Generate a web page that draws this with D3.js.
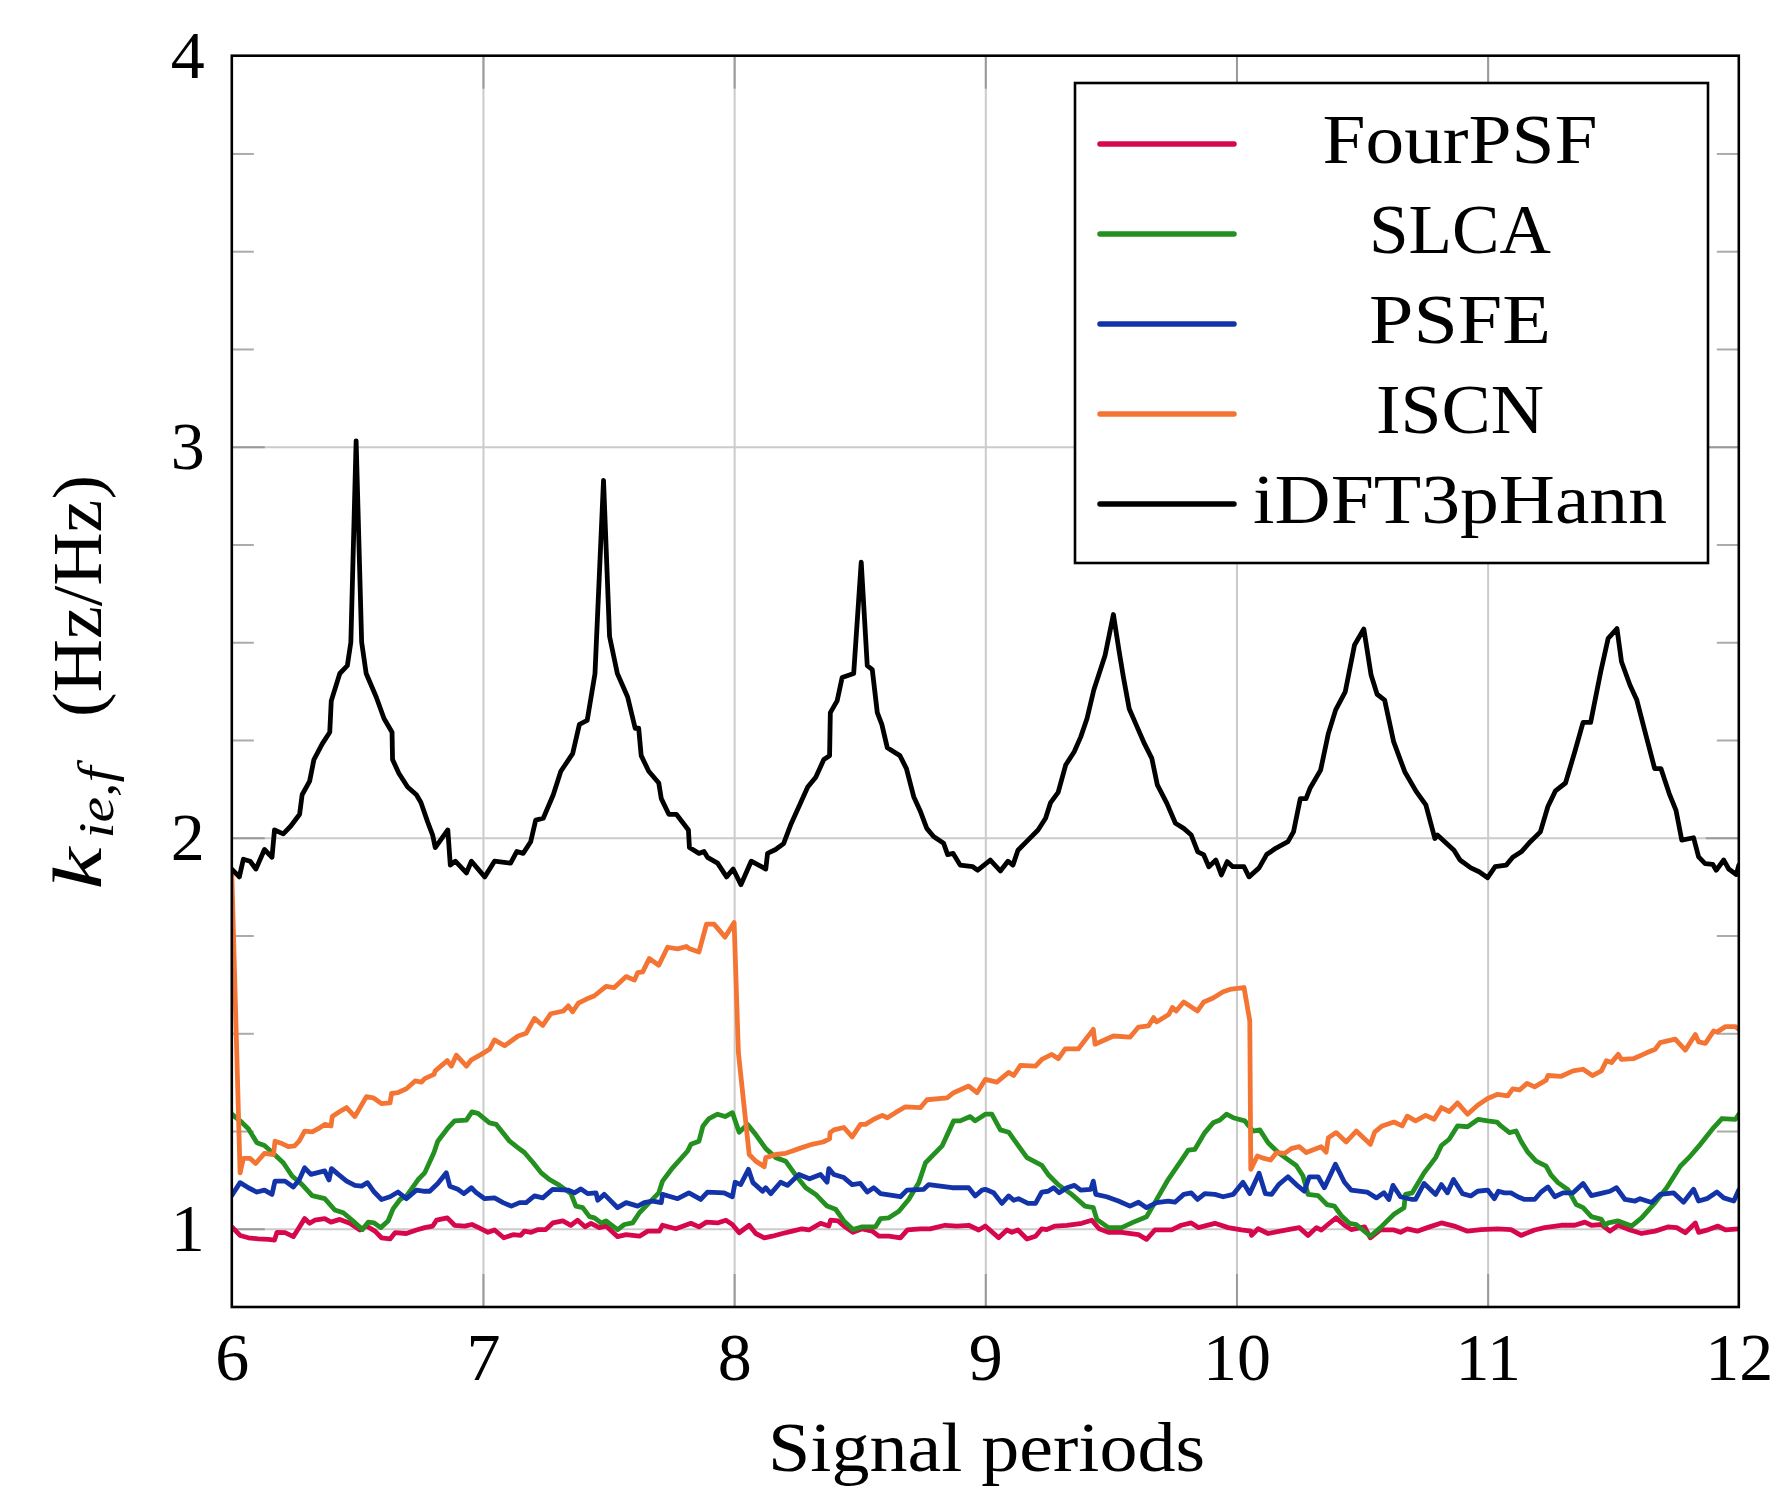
<!DOCTYPE html>
<html><head><meta charset="utf-8">
<script src="https://cdn.jsdelivr.net/npm/d3@7"></script>
<style>
body{margin:0;background:#fff}
svg{display:block}
text{font-family:"Liberation Serif","Times New Roman",serif;fill:#000}
</style>
</head><body>
<svg id="chart" width="1782" height="1488"></svg>
<script>
// ---------- data ----------
const xTickValues = [6, 7, 8, 9, 10, 11, 12];
const yTickValues = [1, 2, 3, 4];
const yMinorTicks = [1.25, 1.5, 1.75, 2.25, 2.5, 2.75, 3.25, 3.5, 3.75];
const seriesNames = ["FourPSF", "SLCA", "PSFE", "ISCN", "iDFT3pHann"];
const seriesColors = ["#d6074c", "#23901f", "#1334a8", "#f47533", "#000000"];
const xLabel = "Signal periods";

const fourPSF = [[6.0,1.005],[6.033,0.983],[6.066,0.977],[6.106,0.974],[6.146,0.973],[6.17,0.971],[6.18,0.991],[6.212,0.99],[6.245,0.98],[6.265,1.0],[6.29,1.026],[6.31,1.014],[6.33,1.022],[6.37,1.026],[6.395,1.017],[6.43,1.024],[6.47,1.014],[6.51,0.997],[6.536,1.007],[6.57,0.994],[6.596,0.977],[6.63,0.974],[6.65,0.99],[6.695,0.988],[6.735,0.997],[6.768,1.003],[6.8,1.007],[6.815,1.022],[6.858,1.028],[6.887,1.009],[6.927,1.007],[6.956,1.011],[6.983,1.003],[7.02,0.991],[7.046,0.997],[7.083,0.977],[7.12,0.985],[7.15,0.983],[7.165,0.994],[7.192,0.991],[7.22,0.998],[7.25,0.998],[7.278,1.015],[7.318,1.02],[7.35,1.009],[7.377,1.022],[7.406,1.005],[7.43,1.014],[7.463,1.003],[7.49,1.007],[7.536,0.98],[7.57,0.985],[7.623,0.981],[7.656,0.994],[7.702,0.994],[7.715,1.009],[7.768,1.0],[7.828,1.014],[7.86,1.005],[7.89,1.017],[7.934,1.015],[7.967,1.022],[7.993,1.011],[8.02,0.99],[8.06,1.009],[8.086,0.988],[8.12,0.977],[8.152,0.981],[8.192,0.988],[8.232,0.994],[8.27,1.0],[8.298,0.997],[8.344,1.014],[8.377,1.007],[8.384,1.022],[8.414,1.02],[8.437,1.007],[8.473,0.991],[8.51,1.0],[8.55,0.994],[8.576,0.981],[8.616,0.981],[8.662,0.977],[8.69,0.997],[8.742,1.0],[8.78,1.0],[8.84,1.009],[8.887,1.007],[8.934,1.009],[8.974,0.997],[9.0,1.007],[9.053,0.977],[9.086,0.997],[9.106,0.991],[9.13,0.997],[9.166,0.974],[9.2,0.981],[9.225,1.0],[9.245,0.998],[9.278,1.007],[9.325,1.009],[9.384,1.014],[9.424,1.022],[9.453,1.0],[9.49,0.991],[9.543,0.991],[9.61,0.985],[9.642,0.973],[9.675,0.997],[9.742,0.997],[9.78,1.009],[9.82,1.015],[9.848,1.003],[9.914,1.014],[9.967,1.003],[10.02,0.997],[10.057,0.994],[10.06,0.983],[10.086,1.0],[10.126,0.988],[10.2,0.997],[10.25,1.003],[10.285,0.983],[10.318,1.003],[10.338,0.997],[10.364,1.011],[10.397,1.028],[10.43,1.009],[10.457,0.998],[10.51,1.005],[10.533,0.977],[10.573,0.997],[10.627,0.997],[10.653,0.991],[10.68,1.0],[10.72,0.994],[10.76,1.003],[10.816,1.015],[10.867,1.007],[10.92,0.994],[10.973,0.998],[11.04,1.0],[11.093,0.998],[11.133,0.983],[11.187,0.997],[11.227,1.003],[11.293,1.009],[11.347,1.009],[11.387,1.017],[11.413,1.009],[11.453,1.011],[11.487,0.994],[11.52,1.009],[11.567,0.997],[11.613,0.988],[11.667,0.994],[11.72,1.005],[11.753,1.003],[11.787,0.99],[11.827,1.015],[11.84,0.991],[11.88,0.998],[11.917,1.007],[11.947,0.997],[12.0,1.0]];

const slca = [[6.0,1.293],[6.033,1.276],[6.066,1.256],[6.1,1.22],[6.13,1.213],[6.17,1.19],[6.205,1.169],[6.24,1.135],[6.28,1.113],[6.32,1.085],[6.37,1.077],[6.41,1.048],[6.444,1.041],[6.483,1.02],[6.52,0.998],[6.543,1.017],[6.567,1.015],[6.593,1.003],[6.622,1.02],[6.642,1.051],[6.67,1.075],[6.696,1.084],[6.742,1.126],[6.768,1.143],[6.805,1.195],[6.82,1.224],[6.858,1.256],[6.887,1.276],[6.934,1.278],[6.956,1.299],[6.98,1.295],[7.026,1.271],[7.053,1.267],[7.106,1.224],[7.14,1.207],[7.165,1.195],[7.2,1.169],[7.232,1.143],[7.265,1.126],[7.305,1.111],[7.35,1.09],[7.37,1.058],[7.397,1.054],[7.424,1.031],[7.444,1.028],[7.47,1.015],[7.49,1.02],[7.536,0.998],[7.563,1.011],[7.596,1.015],[7.623,1.041],[7.662,1.067],[7.7,1.092],[7.715,1.122],[7.755,1.156],[7.815,1.199],[7.828,1.216],[7.86,1.224],[7.876,1.263],[7.9,1.282],[7.934,1.293],[7.964,1.287],[7.993,1.297],[8.02,1.247],[8.053,1.267],[8.086,1.241],[8.126,1.205],[8.166,1.182],[8.205,1.173],[8.245,1.137],[8.285,1.105],[8.325,1.088],[8.37,1.058],[8.404,1.05],[8.437,1.02],[8.473,0.998],[8.51,1.005],[8.563,1.005],[8.583,1.026],[8.616,1.028],[8.656,1.045],[8.695,1.075],[8.735,1.118],[8.762,1.169],[8.828,1.212],[8.874,1.276],[8.9,1.276],[8.94,1.287],[8.96,1.276],[9.0,1.293],[9.026,1.293],[9.06,1.253],[9.093,1.247],[9.132,1.212],[9.166,1.182],[9.225,1.162],[9.25,1.139],[9.29,1.113],[9.344,1.088],[9.397,1.058],[9.43,1.054],[9.444,1.024],[9.49,1.003],[9.543,1.003],[9.59,1.017],[9.642,1.031],[9.675,1.067],[9.728,1.126],[9.788,1.182],[9.808,1.201],[9.834,1.203],[9.874,1.246],[9.907,1.271],[9.934,1.278],[9.96,1.293],[9.987,1.284],[10.033,1.276],[10.066,1.25],[10.093,1.253],[10.126,1.22],[10.166,1.195],[10.205,1.177],[10.238,1.162],[10.265,1.135],[10.285,1.088],[10.325,1.085],[10.36,1.062],[10.39,1.058],[10.417,1.034],[10.45,1.014],[10.477,1.011],[10.533,0.981],[10.573,1.003],[10.627,1.037],[10.667,1.054],[10.673,1.088],[10.7,1.092],[10.747,1.143],[10.793,1.182],[10.816,1.213],[10.847,1.229],[10.88,1.263],[10.92,1.261],[10.963,1.28],[11.0,1.276],[11.037,1.273],[11.053,1.263],[11.087,1.246],[11.113,1.25],[11.133,1.224],[11.16,1.196],[11.193,1.173],[11.233,1.16],[11.253,1.137],[11.28,1.118],[11.32,1.1],[11.353,1.062],[11.38,1.054],[11.413,1.031],[11.453,1.024],[11.467,1.009],[11.48,1.015],[11.52,1.02],[11.573,1.007],[11.613,1.028],[11.667,1.067],[11.713,1.105],[11.767,1.16],[11.807,1.186],[11.847,1.216],[11.9,1.259],[11.933,1.282],[11.987,1.28],[12.0,1.293]];

const psfe = [[6.0,1.085],[6.033,1.118],[6.066,1.105],[6.1,1.094],[6.13,1.099],[6.16,1.088],[6.172,1.122],[6.212,1.122],[6.245,1.107],[6.268,1.125],[6.29,1.156],[6.315,1.139],[6.338,1.143],[6.37,1.148],[6.387,1.125],[6.397,1.154],[6.424,1.139],[6.457,1.122],[6.49,1.111],[6.517,1.109],[6.54,1.118],[6.567,1.094],[6.596,1.075],[6.63,1.082],[6.662,1.094],[6.695,1.077],[6.735,1.099],[6.768,1.096],[6.788,1.096],[6.82,1.116],[6.854,1.143],[6.868,1.109],[6.9,1.101],[6.924,1.09],[6.954,1.105],[6.974,1.092],[7.007,1.077],[7.046,1.079],[7.08,1.067],[7.113,1.058],[7.146,1.067],[7.172,1.067],[7.205,1.084],[7.238,1.079],[7.278,1.101],[7.338,1.099],[7.364,1.092],[7.39,1.102],[7.417,1.09],[7.45,1.092],[7.457,1.073],[7.483,1.088],[7.497,1.079],[7.536,1.054],[7.57,1.067],[7.616,1.058],[7.642,1.067],[7.675,1.071],[7.71,1.067],[7.715,1.088],[7.748,1.082],[7.775,1.077],[7.82,1.092],[7.867,1.075],[7.894,1.094],[7.96,1.092],[7.993,1.082],[8.004,1.119],[8.026,1.113],[8.057,1.152],[8.075,1.118],[8.113,1.096],[8.126,1.105],[8.146,1.09],[8.185,1.119],[8.212,1.111],[8.258,1.139],[8.3,1.128],[8.344,1.139],[8.37,1.119],[8.377,1.154],[8.397,1.139],[8.437,1.131],[8.47,1.113],[8.503,1.116],[8.53,1.094],[8.556,1.105],[8.583,1.09],[8.642,1.084],[8.662,1.082],[8.688,1.099],[8.755,1.101],[8.775,1.113],[8.868,1.105],[8.934,1.105],[8.96,1.084],[8.987,1.099],[9.0,1.101],[9.033,1.092],[9.066,1.065],[9.093,1.084],[9.113,1.073],[9.132,1.077],[9.17,1.065],[9.2,1.065],[9.225,1.094],[9.25,1.096],[9.272,1.105],[9.294,1.092],[9.325,1.105],[9.355,1.111],[9.38,1.099],[9.42,1.101],[9.43,1.122],[9.44,1.088],[9.483,1.082],[9.53,1.071],[9.576,1.058],[9.61,1.068],[9.642,1.054],[9.682,1.067],[9.728,1.071],[9.755,1.068],[9.79,1.088],[9.82,1.092],[9.845,1.075],[9.874,1.09],[9.914,1.088],[9.947,1.082],[9.987,1.088],[10.026,1.119],[10.053,1.09],[10.09,1.142],[10.115,1.09],[10.14,1.088],[10.168,1.113],[10.205,1.133],[10.238,1.113],[10.27,1.096],[10.29,1.133],[10.325,1.133],[10.35,1.105],[10.394,1.165],[10.43,1.119],[10.457,1.099],[10.52,1.094],[10.557,1.079],[10.587,1.092],[10.607,1.075],[10.623,1.111],[10.653,1.082],[10.7,1.075],[10.713,1.075],[10.747,1.116],[10.793,1.088],[10.816,1.113],[10.84,1.092],[10.864,1.126],[10.9,1.09],[10.933,1.084],[10.96,1.096],[11.0,1.099],[11.027,1.077],[11.043,1.096],[11.067,1.092],[11.093,1.092],[11.12,1.082],[11.147,1.075],[11.187,1.075],[11.213,1.094],[11.24,1.107],[11.267,1.082],[11.3,1.092],[11.34,1.092],[11.38,1.116],[11.413,1.085],[11.46,1.092],[11.487,1.096],[11.513,1.105],[11.547,1.075],[11.587,1.071],[11.607,1.077],[11.653,1.067],[11.687,1.088],[11.74,1.092],[11.78,1.068],[11.82,1.101],[11.84,1.071],[11.873,1.077],[11.913,1.094],[11.94,1.079],[11.98,1.071],[12.0,1.099]];

const iscn = [[6.0,1.907],[6.033,1.143],[6.046,1.18],[6.073,1.18],[6.095,1.167],[6.13,1.193],[6.166,1.19],[6.172,1.224],[6.2,1.218],[6.225,1.21],[6.25,1.212],[6.268,1.224],[6.29,1.25],[6.32,1.248],[6.344,1.256],[6.37,1.267],[6.395,1.263],[6.4,1.287],[6.43,1.3],[6.457,1.31],[6.49,1.287],[6.536,1.338],[6.563,1.335],[6.596,1.32],[6.63,1.322],[6.636,1.346],[6.66,1.348],[6.695,1.358],[6.73,1.378],[6.755,1.375],[6.768,1.384],[6.805,1.395],[6.81,1.404],[6.858,1.43],[6.874,1.416],[6.894,1.444],[6.934,1.416],[6.954,1.432],[6.993,1.446],[7.026,1.459],[7.046,1.483],[7.086,1.468],[7.14,1.493],[7.172,1.5],[7.205,1.538],[7.238,1.52],[7.27,1.55],[7.32,1.557],[7.34,1.57],[7.357,1.555],[7.38,1.577],[7.41,1.587],[7.444,1.596],[7.49,1.62],[7.523,1.617],[7.57,1.645],[7.603,1.636],[7.616,1.655],[7.636,1.657],[7.662,1.691],[7.7,1.674],[7.735,1.72],[7.775,1.716],[7.81,1.722],[7.82,1.717],[7.86,1.708],[7.89,1.779],[7.92,1.779],[7.964,1.746],[8.0,1.783],[8.017,1.45],[8.06,1.19],[8.086,1.173],[8.12,1.159],[8.126,1.182],[8.166,1.19],[8.205,1.193],[8.232,1.199],[8.258,1.205],[8.31,1.216],[8.354,1.222],[8.38,1.23],[8.382,1.246],[8.397,1.253],[8.437,1.259],[8.47,1.235],[8.503,1.267],[8.523,1.267],[8.556,1.28],[8.59,1.29],[8.61,1.284],[8.642,1.297],[8.682,1.312],[8.742,1.31],[8.768,1.33],[8.848,1.335],[8.874,1.348],[8.934,1.365],[8.967,1.348],[9.0,1.382],[9.046,1.375],[9.093,1.4],[9.113,1.392],[9.14,1.418],[9.2,1.416],[9.225,1.433],[9.265,1.446],[9.291,1.435],[9.318,1.46],[9.37,1.46],[9.43,1.51],[9.437,1.472],[9.51,1.493],[9.576,1.49],[9.61,1.516],[9.65,1.519],[9.67,1.54],[9.682,1.529],[9.73,1.548],[9.745,1.566],[9.76,1.557],[9.79,1.58],[9.845,1.557],[9.87,1.58],[9.907,1.59],[9.947,1.606],[9.98,1.613],[10.03,1.617],[10.053,1.532],[10.057,1.152],[10.083,1.186],[10.11,1.18],[10.136,1.176],[10.16,1.195],[10.192,1.193],[10.218,1.205],[10.25,1.21],[10.278,1.195],[10.337,1.21],[10.357,1.196],[10.366,1.233],[10.397,1.246],[10.437,1.222],[10.477,1.25],[10.533,1.216],[10.55,1.247],[10.58,1.263],[10.627,1.273],[10.66,1.263],[10.68,1.288],[10.713,1.276],[10.753,1.29],[10.787,1.28],[10.816,1.31],[10.847,1.3],[10.88,1.322],[10.92,1.293],[10.96,1.316],[11.0,1.333],[11.04,1.344],[11.08,1.34],[11.1,1.358],[11.127,1.355],[11.157,1.372],[11.187,1.363],[11.233,1.38],[11.24,1.392],[11.293,1.39],[11.34,1.404],[11.38,1.408],[11.417,1.392],[11.453,1.404],[11.473,1.43],[11.493,1.425],[11.52,1.446],[11.533,1.433],[11.58,1.435],[11.633,1.45],[11.667,1.459],[11.687,1.476],[11.747,1.485],[11.787,1.457],[11.827,1.497],[11.84,1.478],[11.867,1.474],[11.9,1.506],[11.913,1.503],[11.947,1.517],[11.987,1.517],[12.0,1.51]];

const idft3pHann = [[6.0,1.92],[6.03,1.9],[6.046,1.945],[6.073,1.94],[6.096,1.92],[6.13,1.97],[6.16,1.95],[6.17,2.02],[6.205,2.01],[6.235,2.03],[6.27,2.06],[6.28,2.11],[6.31,2.145],[6.327,2.2],[6.36,2.24],[6.39,2.27],[6.396,2.35],[6.43,2.42],[6.46,2.44],[6.474,2.5],[6.495,3.015],[6.517,2.5],[6.535,2.42],[6.575,2.36],[6.606,2.305],[6.638,2.27],[6.64,2.2],[6.665,2.165],[6.7,2.13],[6.735,2.11],[6.753,2.09],[6.78,2.04],[6.8,2.006],[6.81,1.975],[6.86,2.02],[6.87,1.93],[6.89,1.94],[6.934,1.91],[6.954,1.94],[7.007,1.9],[7.046,1.94],[7.11,1.935],[7.135,1.965],[7.16,1.96],[7.19,1.99],[7.21,2.045],[7.24,2.05],[7.28,2.11],[7.31,2.17],[7.357,2.215],[7.384,2.29],[7.415,2.3],[7.446,2.42],[7.48,2.914],[7.504,2.515],[7.535,2.42],[7.576,2.36],[7.606,2.28],[7.62,2.28],[7.63,2.21],[7.66,2.17],[7.7,2.14],[7.71,2.1],[7.74,2.06],[7.77,2.06],[7.818,2.02],[7.822,1.975],[7.86,1.96],[7.88,1.965],[7.894,1.95],[7.934,1.935],[7.97,1.9],[7.996,1.92],[8.027,1.88],[8.068,1.94],[8.126,1.92],[8.133,1.96],[8.165,1.97],[8.197,1.985],[8.227,2.036],[8.263,2.087],[8.293,2.13],[8.325,2.155],[8.357,2.2],[8.38,2.21],[8.383,2.32],[8.41,2.35],[8.43,2.41],[8.476,2.42],[8.506,2.705],[8.53,2.44],[8.55,2.43],[8.57,2.32],[8.588,2.29],[8.61,2.23],[8.66,2.21],[8.686,2.177],[8.715,2.105],[8.74,2.07],[8.767,2.024],[8.794,2.003],[8.834,1.986],[8.85,1.957],[8.872,1.96],[8.9,1.93],[8.95,1.926],[8.97,1.917],[9.02,1.943],[9.06,1.915],[9.09,1.94],[9.11,1.93],[9.13,1.968],[9.17,1.994],[9.21,2.02],[9.24,2.05],[9.26,2.09],[9.29,2.116],[9.32,2.186],[9.354,2.22],[9.38,2.258],[9.405,2.305],[9.432,2.378],[9.477,2.467],[9.51,2.571],[9.533,2.476],[9.55,2.41],[9.573,2.33],[9.6,2.29],[9.634,2.24],[9.663,2.203],[9.685,2.135],[9.723,2.088],[9.757,2.037],[9.79,2.024],[9.82,2.007],[9.846,1.964],[9.869,1.957],[9.89,1.926],[9.918,1.943],[9.94,1.905],[9.963,1.939],[9.985,1.926],[10.03,1.926],[10.05,1.9],[10.09,1.923],[10.12,1.957],[10.156,1.973],[10.205,1.99],[10.227,2.015],[10.254,2.1],[10.277,2.1],[10.294,2.128],[10.335,2.173],[10.366,2.267],[10.395,2.327],[10.433,2.373],[10.47,2.493],[10.507,2.534],[10.536,2.416],[10.56,2.367],[10.59,2.352],[10.626,2.245],[10.67,2.169],[10.716,2.118],[10.754,2.084],[10.79,1.998],[10.8,2.007],[10.866,1.968],[10.89,1.943],[10.933,1.923],[10.966,1.913],[11.0,1.898],[11.03,1.926],[11.074,1.93],[11.1,1.95],[11.134,1.964],[11.17,1.99],[11.21,2.015],[11.24,2.08],[11.27,2.12],[11.31,2.14],[11.347,2.22],[11.38,2.295],[11.41,2.295],[11.45,2.424],[11.48,2.51],[11.515,2.535],[11.533,2.45],[11.567,2.39],[11.594,2.352],[11.627,2.27],[11.665,2.177],[11.69,2.177],[11.723,2.113],[11.75,2.07],[11.773,1.994],[11.82,2.0],[11.84,1.951],[11.866,1.934],[11.896,1.932],[11.91,1.917],[11.94,1.943],[11.96,1.92],[11.99,1.906],[12.0,1.93]];

const allSeries = [fourPSF, slca, psfe, iscn, idft3pHann];

// ---------- layout ----------
const L = 231.8, R = 1738.8, T = 55.7, B = 1307;
const x = d3.scaleLinear().domain([6, 12]).range([L, R]);
const y = d3.scaleLinear().domain([0.8, 4]).range([B, T]);
const svg = d3.select("#chart");
const gridColor = "#cbcbcb", majorTickColor = "#9a9a9a", minorTickColor = "#ababab";
const majLen = 33, minLen = 22;

svg.append("defs").append("clipPath").attr("id", "plotclip")
  .append("rect").attr("x", L).attr("y", T).attr("width", R - L).attr("height", B - T);

function styleAxis(g, color, width) {
  g.select(".domain").remove();
  g.selectAll(".tick line").attr("stroke", color).attr("stroke-width", width);
}

// grid lines
svg.append("g").attr("transform", `translate(0,${B})`)
  .call(d3.axisBottom(x).tickValues(xTickValues.slice(1, -1)).tickSize(-(B - T)).tickFormat(""))
  .call(g => styleAxis(g, gridColor, 2));
svg.append("g").attr("transform", `translate(${L},0)`)
  .call(d3.axisLeft(y).tickValues(yTickValues.slice(0, -1)).tickSize(-(R - L)).tickFormat(""))
  .call(g => styleAxis(g, gridColor, 2));

// minor y ticks (left and right, inside)
svg.append("g").attr("transform", `translate(${L},0)`)
  .call(d3.axisLeft(y).tickValues(yMinorTicks).tickSize(-minLen).tickFormat(""))
  .call(g => styleAxis(g, minorTickColor, 2));
svg.append("g").attr("transform", `translate(${R},0)`)
  .call(d3.axisRight(y).tickValues(yMinorTicks).tickSize(-minLen).tickFormat(""))
  .call(g => styleAxis(g, minorTickColor, 2));

// major ticks with labels
const xAxisG = svg.append("g").attr("transform", `translate(0,${B})`)
  .call(d3.axisBottom(x).tickValues(xTickValues).tickSize(-majLen).tickPadding(25).tickFormat(d3.format("d")))
  .call(g => styleAxis(g, majorTickColor, 2));
xAxisG.selectAll(".tick text").attr("font-size", 68).attr("font-family", "Liberation Serif").attr("fill", "#000");
xAxisG.selectAll(".tick").filter(d => d === 6 || d === 12).select("line").remove();

const yAxisG = svg.append("g").attr("transform", `translate(${L},0)`)
  .call(d3.axisLeft(y).tickValues(yTickValues).tickSize(-majLen).tickPadding(27).tickFormat(d3.format("d")))
  .call(g => styleAxis(g, majorTickColor, 2));
yAxisG.selectAll(".tick text").attr("font-size", 68).attr("font-family", "Liberation Serif").attr("fill", "#000");
yAxisG.selectAll(".tick").filter(d => d === 4).select("line").remove();

svg.append("g").attr("transform", `translate(0,${T})`)
  .call(d3.axisTop(x).tickValues(xTickValues.slice(1, -1)).tickSize(-majLen).tickFormat(""))
  .call(g => styleAxis(g, majorTickColor, 2));
svg.append("g").attr("transform", `translate(${R},0)`)
  .call(d3.axisRight(y).tickValues(yTickValues.slice(0, -1)).tickSize(-majLen).tickFormat(""))
  .call(g => styleAxis(g, majorTickColor, 2));

// series
const line = d3.line().x(d => x(d[0])).y(d => y(d[1]));
const linesG = svg.append("g").attr("clip-path", "url(#plotclip)");
allSeries.forEach((s, i) => {
  linesG.append("path").datum(s)
    .attr("d", line)
    .attr("fill", "none")
    .attr("stroke", seriesColors[i])
    .attr("stroke-width", 4.8)
    .attr("stroke-linejoin", "round")
    .attr("stroke-linecap", "round");
});

// frame
svg.append("rect").attr("x", L).attr("y", T).attr("width", R - L).attr("height", B - T)
  .attr("fill", "none").attr("stroke", "#000").attr("stroke-width", 2.6);

// legend
const legX0 = 1075, legY0 = 83, legW = 633, legH = 480;
const legend = svg.append("g");
legend.append("rect").attr("x", legX0).attr("y", legY0).attr("width", legW).attr("height", legH)
  .attr("fill", "#fff").attr("stroke", "#000").attr("stroke-width", 2.6);
const legWidths = [275, 182, 182, 168, 414];
seriesNames.forEach((name, i) => {
  const ly = 144 + i * 90;
  legend.append("line").attr("x1", 1100).attr("x2", 1234).attr("y1", ly).attr("y2", ly)
    .attr("stroke", seriesColors[i]).attr("stroke-width", 5.5).attr("stroke-linecap", "round");
  legend.append("text").attr("x", 1460).attr("y", ly + 19)
    .attr("text-anchor", "middle").attr("font-size", 70)
    .attr("textLength", legWidths[i]).attr("lengthAdjust", "spacingAndGlyphs")
    .text(name);
});

// x-axis label
svg.append("text").attr("x", 986.5).attr("y", 1471).attr("text-anchor", "middle")
  .attr("font-size", 70).attr("textLength", 437).attr("lengthAdjust", "spacingAndGlyphs")
  .text(xLabel);

// y-axis label (rotated)
const yl = svg.append("g").attr("transform", "translate(101,683.5) rotate(-90)");
yl.append("text").attr("x", -206).attr("y", 0).attr("font-size", 70).attr("font-style", "italic")
  .attr("textLength", 42).attr("lengthAdjust", "spacingAndGlyphs").text("k");
yl.append("text").attr("x", -155).attr("y", 12).attr("font-size", 50).attr("font-style", "italic")
  .attr("textLength", 72).attr("lengthAdjust", "spacingAndGlyphs").text("ie,f");
yl.append("text").attr("x", -33.5).attr("y", 0).attr("font-size", 70)
  .attr("textLength", 242).attr("lengthAdjust", "spacingAndGlyphs").text("(Hz/Hz)");
</script>
</body></html>
